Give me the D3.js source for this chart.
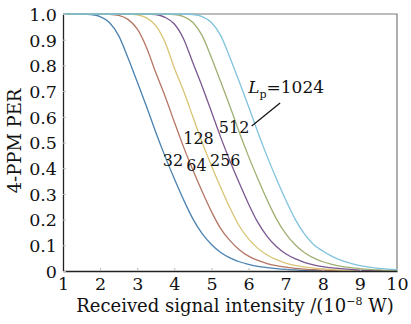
<!DOCTYPE html>
<html>
<head>
<meta charset="utf-8">
<script src="https://cdn.jsdelivr.net/npm/d3@7"></script>
<style>
  html, body { margin: 0; padding: 0; background: #fff; }
  svg { display: block; font-family: 'DejaVu Serif', serif; }
</style>
</head>
<body>
<div id="chart"></div>
<script>
// received signal intensity (10^-8 W), shared x grid for all curves
var intensity = [1, 1.25, 1.5, 1.75, 2, 2.25, 2.5, 2.75, 3, 3.25, 3.5, 3.75, 4, 4.25, 4.5, 4.75, 5, 5.25, 5.5, 5.75,
                 6, 6.25, 6.5, 6.75, 7, 7.25, 7.5, 7.75, 8, 8.25, 8.5, 8.75, 9, 9.25, 9.5, 9.75, 10];

// 4-PPM packet error rate, one array per Lp
var per32   = [1, 1, 1, 0.998, 0.990, 0.967, 0.916, 0.830, 0.736, 0.640, 0.540, 0.446, 0.359, 0.277, 0.203, 0.145, 0.103, 0.072, 0.051, 0.036,
               0.026, 0.018, 0.013, 0.009, 0.006, 0.004, 0.002, 0.002, 0.001, 0.001, 0, 0, 0, 0, 0, 0, 0];
var per64   = [1, 1, 1, 1, 1, 0.999, 0.995, 0.979, 0.942, 0.870, 0.772, 0.680, 0.580, 0.482, 0.393, 0.309, 0.231, 0.165, 0.118, 0.083,
               0.058, 0.041, 0.029, 0.021, 0.015, 0.010, 0.007, 0.005, 0.003, 0.002, 0.001, 0.001, 0, 0, 0, 0, 0];
var per128  = [1, 1, 1, 1, 1, 1, 1, 1, 0.997, 0.985, 0.955, 0.890, 0.790, 0.700, 0.600, 0.500, 0.410, 0.325, 0.245, 0.175,
               0.125, 0.088, 0.062, 0.044, 0.031, 0.022, 0.016, 0.011, 0.008, 0.005, 0.003, 0.002, 0.0015, 0.001, 0.0005, 0, 0];
var per256  = [1, 1, 1, 1, 1, 1, 1, 1, 1, 1, 0.998, 0.987, 0.961, 0.903, 0.810, 0.718, 0.620, 0.520, 0.428, 0.342,
               0.261, 0.189, 0.135, 0.095, 0.067, 0.048, 0.034, 0.024, 0.017, 0.012, 0.009, 0.006, 0.0035, 0.002, 0.0016, 0.001, 0.0006];
var per512  = [1, 1, 1, 1, 1, 1, 1, 1, 1, 1, 1, 1, 0.998, 0.990, 0.967, 0.916, 0.830, 0.736, 0.640, 0.540,
               0.446, 0.359, 0.277, 0.203, 0.145, 0.103, 0.072, 0.051, 0.036, 0.026, 0.018, 0.013, 0.009, 0.006, 0.004, 0.002, 0.002];
var per1024 = [1, 1, 1, 1, 1, 1, 1, 1, 1, 1, 1, 1, 1, 1, 0.998, 0.990, 0.967, 0.916, 0.830, 0.736,
               0.640, 0.540, 0.446, 0.359, 0.277, 0.203, 0.145, 0.103, 0.078, 0.057, 0.041, 0.030, 0.021, 0.015, 0.010, 0.007, 0.005];

var seriesNames = ['32', '64', '128', '256', '512', '1024'];
var seriesColors = ['#4a82b0', '#b57563', '#d8c474', '#7b5890', '#9fb072', '#7fc3dc'];

var xTicks = [1, 2, 3, 4, 5, 6, 7, 8, 9, 10];
var yTicks = [0, 0.1, 0.2, 0.3, 0.4, 0.5, 0.6, 0.7, 0.8, 0.9, 1];
var yTickLabels = ['0', '0.1', '0.2', '0.3', '0.4', '0.5', '0.6', '0.7', '0.8', '0.9', '1.0'];

// curve labels, anchored in data units (left edge, baseline)
var labelText = ['32', '64', '128', '256', '512'];
var labelAt = [[3.69, 0.409], [4.32, 0.389], [4.24, 0.494], [4.96, 0.409], [5.2, 0.537]];
var lpAt = [5.99, 0.693];
var leader = [[6.85, 0.654], [6.085, 0.564]];

var width = 411, height = 324;
var margin = {top: 14, right: 14, bottom: 53, left: 63};

var svg = d3.select('#chart').append('svg')
    .attr('width', width)
    .attr('height', height);

var x = d3.scaleLinear().domain([1, 10]).range([margin.left, width - margin.right]);
var y = d3.scaleLinear().domain([0, 1]).range([height - margin.bottom, margin.top]);

// top / right frame (grey)
svg.append('path')
    .attr('d', 'M' + x(1) + ',' + y(1) + 'H' + x(10) + 'V' + y(0))
    .attr('fill', 'none')
    .attr('stroke', '#7a7a7a')
    .attr('stroke-width', 1.2);

// curves
var series = [per32, per64, per128, per256, per512, per1024];
var line = d3.line()
    .x(function(d, i) { return x(intensity[i]); })
    .y(function(d) { return y(d); })
    .curve(d3.curveMonotoneX);

svg.append('g').selectAll('path')
    .data(series)
    .join('path')
    .attr('d', line)
    .attr('fill', 'none')
    .attr('stroke', function(d, i) { return seriesColors[i]; })
    .attr('stroke-width', 1.3);

// axes
var xAxis = svg.append('g')
    .attr('transform', 'translate(0,' + y(0) + ')')
    .call(d3.axisBottom(x).tickValues(xTicks).tickSizeInner(-3).tickSizeOuter(0).tickPadding(7));
var yAxis = svg.append('g')
    .attr('transform', 'translate(' + x(1) + ',0)')
    .call(d3.axisLeft(y).tickValues(yTicks).tickSizeInner(-3).tickSizeOuter(0).tickPadding(6)
        .tickFormat(function(d, i) { return yTickLabels[i]; }));

[xAxis, yAxis].forEach(function(g) {
    g.select('.domain').attr('stroke', '#222').attr('stroke-width', 1.3);
    g.selectAll('.tick line').attr('stroke', '#bbb');
    g.selectAll('.tick text')
        .attr('fill', '#111')
        .style('font-family', "'DejaVu Serif', serif")
        .style('font-size', '17.5px');
});
yAxis.selectAll('.tick text').attr('dy', '0.36em');

// axis titles
var xTitle = svg.append('text')
    .attr('x', 235)
    .attr('y', 312)
    .attr('text-anchor', 'middle')
    .attr('fill', '#111')
    .style('font-size', '18px');
xTitle.append('tspan').text('Received signal intensity /(10');
xTitle.append('tspan').attr('dy', -7).style('font-size', '11px').text('\u22128');
xTitle.append('tspan').attr('dy', 7).text(' W)');

svg.append('text')
    .attr('transform', 'translate(21,141) rotate(-90)')
    .attr('text-anchor', 'middle')
    .attr('fill', '#111')
    .style('font-size', '18px')
    .text('4-PPM PER');

// curve labels
svg.append('g').selectAll('text')
    .data(labelText)
    .join('text')
    .attr('x', function(d, i) { return x(labelAt[i][0]); })
    .attr('y', function(d, i) { return y(labelAt[i][1]); })
    .attr('fill', '#111')
    .style('font-size', '16px')
    .text(function(d) { return d; });

var lp = svg.append('text')
    .attr('x', x(lpAt[0]))
    .attr('y', y(lpAt[1]))
    .attr('fill', '#111')
    .style('font-size', '17px');
lp.append('tspan').style('font-style', 'italic').text('L');
lp.append('tspan').attr('dy', 5).style('font-size', '11px').text('p');
lp.append('tspan').attr('dy', -5).text('=' + seriesNames[5]);

svg.append('line')
    .attr('x1', x(leader[0][0])).attr('y1', y(leader[0][1]))
    .attr('x2', x(leader[1][0])).attr('y2', y(leader[1][1]))
    .attr('stroke', '#111')
    .attr('stroke-width', 1.2);
</script>
</body>
</html>
